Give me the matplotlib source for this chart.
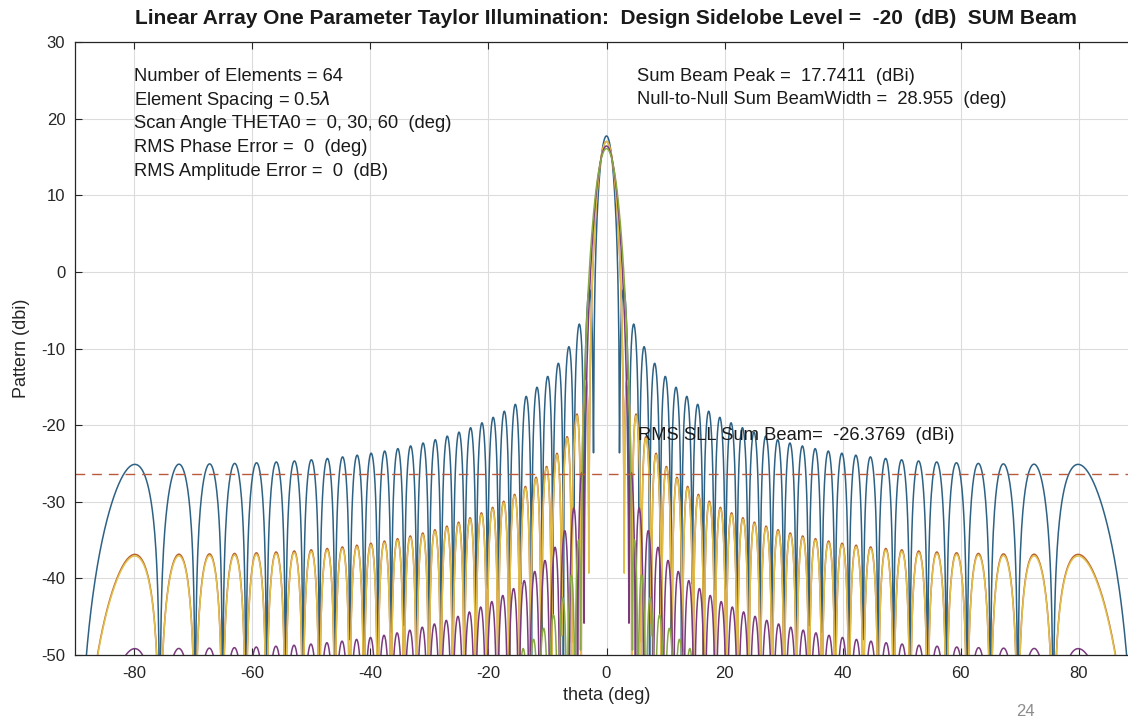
import numpy as np
import matplotlib
matplotlib.use("Agg")
import matplotlib.pyplot as plt

plt.rcParams["axes.unicode_minus"] = False
plt.rcParams["font.family"] = ["Liberation Sans", "DejaVu Sans"]

# array parameters shown on the plot
n_elements = 64
spacing = 0.5            # wavelengths
scan_angles = [0, 30, 60]
rms_phase_err = 0
rms_amp_err = 0
design_sll = -20

# taper sidelobe designs (dB) for each plotted pattern, drawn in this order
pattern_sll = [-20.0, -31.0, -31.2, -42.6, -51.0]
pattern_colors = ["#2e6284", "#b8622e", "#e2bf4c", "#7a3a7e", "#88a844"]

sum_peak = 17.7411
null_beamwidth = 28.955
rms_sll = -26.3769

x_ticks = [-80, -60, -40, -20, 0, 20, 40, 60, 80]
y_ticks = [-50, -40, -30, -20, -10, 0, 10, 20, 30]

theta = np.arange(-90.0, 90.0001, 0.1)


def taylor_b(sll_db):
    # one-parameter Taylor: sinh(pi B)/(pi B) = SLR * 0.21723
    target = 10 ** (-sll_db / 20.0) * 0.21723
    lo, hi = 1e-6, 10.0
    for _ in range(80):
        mid = 0.5 * (lo + hi)
        if np.sinh(np.pi * mid) / (np.pi * mid) < target:
            lo = mid
        else:
            hi = mid
    return 0.5 * (lo + hi)


def pattern_dbi(sll_db):
    xn = np.arange(n_elements) - (n_elements - 1) / 2.0
    p = xn / (n_elements / 2.0)
    w = np.i0(np.pi * taylor_b(sll_db) * np.sqrt(1 - p ** 2))
    phase = 2 * np.pi * spacing * np.outer(np.sin(np.radians(theta)), xn)
    af = np.exp(1j * phase) @ w
    d = np.abs(af) ** 2 / np.sum(w ** 2)
    return 10 * np.log10(d + 1e-12)


patterns = [pattern_dbi(s) for s in pattern_sll]
offset = sum_peak - patterns[0].max()

fig = plt.figure(figsize=(11.28, 7.21), dpi=100)
ax = fig.add_axes([75 / 1128, 1 - 655 / 721, (1138 - 75) / 1128, (655 - 42) / 721])

for pat, col in zip(patterns, pattern_colors):
    ax.plot(theta, pat + offset, color=col, lw=1.1)

ax.axhline(rms_sll, color="#b85a3c", lw=1.0, ls=(0, (7, 5)))

ax.set_xlim(-90, 90)
ax.set_ylim(-50, 30)
ax.set_xticks(x_ticks)
ax.set_yticks(y_ticks)
ax.grid(True, color="#dcdcdc", lw=0.8)
ax.set_axisbelow(True)
ax.tick_params(direction="in", length=5, labelsize=12, colors="#262626",
               top=True, right=True)
ax.tick_params(axis="x", pad=8)
ax.tick_params(axis="y", pad=7)
for s in ax.spines.values():
    s.set_color("#262626")
    s.set_linewidth(0.9)

ax.set_xlabel("theta (deg)", fontsize=13, color="#262626", labelpad=4)
ax.set_ylabel("Pattern (dbi)", fontsize=13, color="#262626", labelpad=8)

fig.text(606 / 1128, 1 - 18 / 721,
         "Linear Array One Parameter Taylor Illumination:  Design Sidelobe Level =  %d  (dB)  SUM Beam" % design_sll,
         ha="center", va="center", fontsize=15, fontweight="bold", color="#1a1a1a")

left_lines = [
    "Number of Elements = %d" % n_elements,
    r"Element Spacing = %.1f$\lambda$" % spacing,
    "Scan Angle THETA0 =  %s  (deg)" % ", ".join(str(a) for a in scan_angles),
    "RMS Phase Error =  %d  (deg)" % rms_phase_err,
    "RMS Amplitude Error =  %d  (dB)" % rms_amp_err,
]
for i, line in enumerate(left_lines):
    ax.text(-80, 25.56 - 3.1 * i, line, fontsize=13.2, va="center", color="#1a1a1a")

right_lines = [
    "Sum Beam Peak =  %.4f  (dBi)" % sum_peak,
    "Null-to-Null Sum BeamWidth =  %.3f  (deg)" % null_beamwidth,
]
for i, line in enumerate(right_lines):
    ax.text(5.2, 25.56 - 3.1 * i, line, fontsize=13.2, va="center", color="#1a1a1a")

ax.text(5.4, -21.3, "RMS SLL Sum Beam=  %.4f  (dBi)" % rms_sll, fontsize=13.2,
        va="center", color="#1a1a1a")

fig.text(1025 / 1128, 1 - 712 / 721, "24", fontsize=12, color="#8c8c8c",
         ha="center", va="center")

fig.savefig("out.png", dpi=100)
